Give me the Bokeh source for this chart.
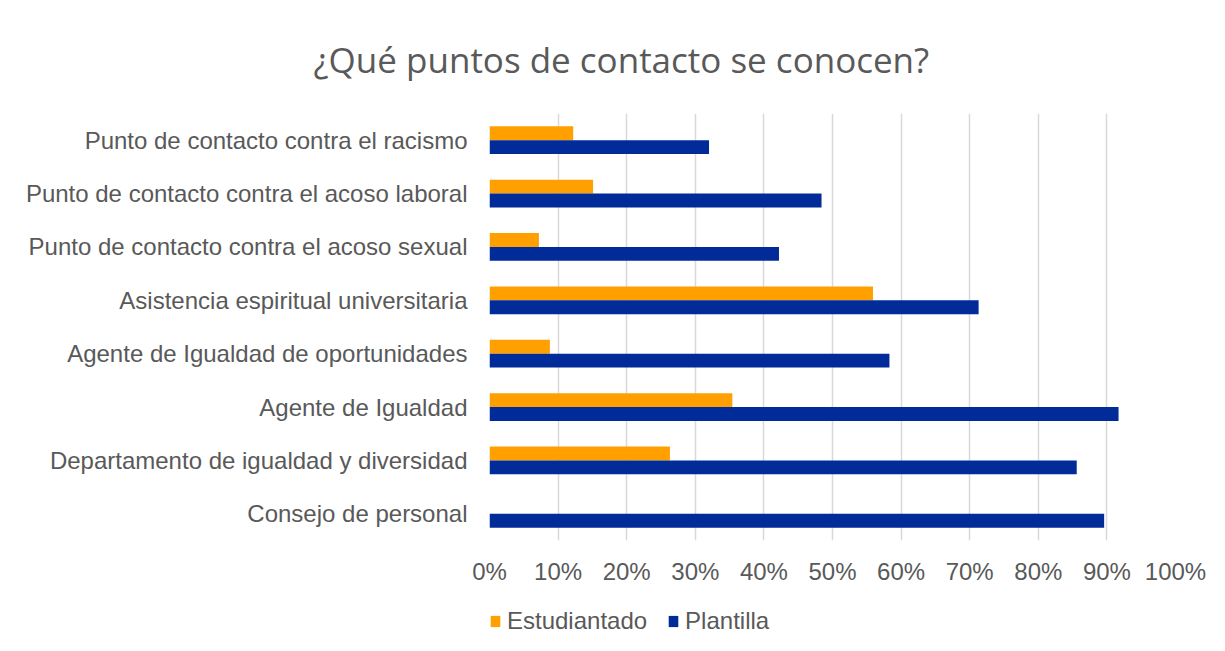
from bokeh.plotting import figure
from bokeh.layouts import column
from bokeh.models import Range1d, FixedTicker, NumeralTickFormatter, Legend, LegendItem, ColumnDataSource
from bokeh.embed import file_html
from bokeh.resources import INLINE

# Data (bottom to top)
categories = [
    "Consejo de personal",
    "Departamento de igualdad y diversidad",
    "Agente de Igualdad",
    "Agente de Igualdad de oportunidades",
    "Asistencia espiritual universitaria",
    "Punto de contacto contra el acoso sexual",
    "Punto de contacto contra el acoso laboral",
    "Punto de contacto contra el racismo",
]
estudiantado = [0.0, 0.263, 0.354, 0.088, 0.559, 0.072, 0.151, 0.122]
plantilla = [0.896, 0.856, 0.917, 0.583, 0.713, 0.422, 0.484, 0.320]
x_ticks = [0, 0.1, 0.2, 0.3, 0.4, 0.5, 0.6, 0.7, 0.8, 0.9, 1.0]
series_names = ["Estudiantado", "Plantilla"]

ORANGE = "#FF9F00"
BLUE = "#002B98"
TEXT = "#595959"
FONT = "Liberation Sans"

centers = [i + 0.5 for i in range(len(categories))]
bar_h = 0.26
src = ColumnDataSource(dict(
    est=estudiantado,
    pla=plantilla,
    y_est=[c + bar_h / 2 for c in centers],
    y_pla=[c - bar_h / 2 for c in centers],
))

W, H1, H2 = 1209, 598, 37
p = figure(width=W, height=H1, output_backend="svg", toolbar_location=None,
           x_range=Range1d(0, 1.0), y_range=Range1d(0, len(categories)),
           min_border_left=489, min_border_right=34, min_border_top=113, min_border_bottom=58)

p.title.text = "¿Qué puntos de contacto se conocen?"
p.title.align = "left"
p.title.text_font = "Open Sans"
p.title.text_font_size = "35px"
p.title.text_font_style = "normal"
p.title.text_color = TEXT
p.title.offset = -176
p.title.standoff = 61

p.hbar(y="y_est", right="est", left=0, height=bar_h, source=src, fill_color=ORANGE, line_color=None)
p.hbar(y="y_pla", right="pla", left=0, height=bar_h, source=src, fill_color=BLUE, line_color=None)

p.outline_line_color = None
p.ygrid.grid_line_color = None
p.xgrid.grid_line_color = "#D9D9D9"
p.xgrid.grid_line_width = 1.5
p.xgrid.ticker = FixedTicker(ticks=x_ticks)

p.xaxis.ticker = FixedTicker(ticks=x_ticks)
p.xaxis.formatter = NumeralTickFormatter(format="0%")
p.xaxis.axis_line_color = None
p.xaxis.major_tick_line_color = None
p.xaxis.minor_tick_line_color = None
p.xaxis.major_label_text_font = FONT
p.xaxis.major_label_text_font_size = "24px"
p.xaxis.major_label_text_color = TEXT
p.xaxis.major_label_standoff = 11

p.yaxis.ticker = FixedTicker(ticks=centers)
p.yaxis.major_label_overrides = {c: name for c, name in zip(centers, categories)}
p.yaxis.axis_line_color = None
p.yaxis.major_tick_line_color = None
p.yaxis.minor_tick_line_color = None
p.yaxis.major_label_text_font = FONT
p.yaxis.major_label_text_font_size = "24px"
p.yaxis.major_label_text_color = TEXT
p.yaxis.major_label_standoff = 16

# Legend strip below the chart (same series, drawn outside its visible range)
lg = figure(width=W, height=H2, output_backend="svg", toolbar_location=None,
            x_range=Range1d(0, 1.0), y_range=Range1d(100, 101),
            min_border_left=0, min_border_right=0, min_border_top=0, min_border_bottom=0)
lg.axis.visible = False
lg.grid.visible = False
lg.outline_line_color = None
l1 = lg.hbar(y="y_est", right="est", left=0, height=bar_h, source=src, fill_color=ORANGE, line_color=None)
l2 = lg.hbar(y="y_pla", right="pla", left=0, height=bar_h, source=src, fill_color=BLUE, line_color=None)
legend = Legend(items=[LegendItem(label=series_names[0], renderers=[l1]),
                       LegendItem(label=series_names[1], renderers=[l2])],
                orientation="horizontal", location=(0, 0),
                label_text_font=FONT, label_text_font_size="24px", label_text_color=TEXT,
                glyph_width=12, glyph_height=14, spacing=20, label_standoff=6,
                border_line_color=None, background_fill_alpha=0, padding=0, margin=0)
lg.add_layout(legend, "center")

layout = column(p, lg, spacing=0)
open("out.html", "w").write(file_html(layout, INLINE))
